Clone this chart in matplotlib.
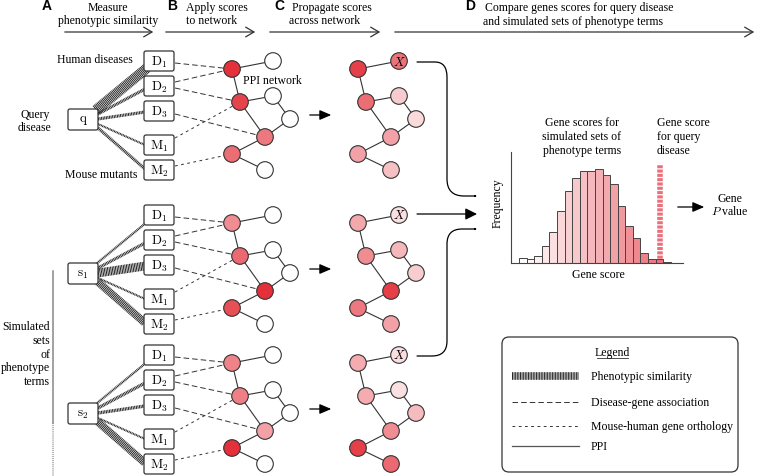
import matplotlib.pyplot as plt
import numpy as np
from matplotlib.patches import Circle, FancyBboxPatch, FancyArrowPatch
from matplotlib.path import Path
from matplotlib.colors import LinearSegmentedColormap

plt.rcParams['font.family'] = ['Liberation Serif', 'DejaVu Serif']
plt.rcParams['mathtext.fontset'] = 'cm'
plt.rcParams['lines.scale_dashes'] = False

# data
source_labels = [r'$\mathrm{q}$', r'$\mathrm{s}_1$', r'$\mathrm{s}_2$']
box_labels = [r'$\mathrm{D}_1$', r'$\mathrm{D}_2$', r'$\mathrm{D}_3$', r'$\mathrm{M}_1$', r'$\mathrm{M}_2$']
# phenotypic similarity of each source to D1, D2, D3, M1, M2
similarity = [
    [1.0, 0.30, 0.30, 0.20, 0.30],
    [0.22, 0.30, 0.85, 0.20, 0.75],
    [0.22, 0.32, 0.32, 0.20, 0.75],
]
# node scores (nodes a..h), before and after propagation
orig_scores = [
    [1.0, 0, 0.9, 0, 0, 0.65, 0.7, 0],
    [0.55, 0, 0.72, 0, 0, 1.0, 0.85, 0],
    [0.6, 0, 0.62, 0, 0, 0.45, 1.0, 0],
]
prop_scores = [
    [0.92, 0.68, 0.7, 0.25, 0.18, 0.45, 0.45, 0.3],
    [0.42, 0.15, 0.55, 0.35, 0.24, 0.93, 0.65, 0.45],
    [0.4, 0.16, 0.4, 0.15, 0.33, 0.55, 0.92, 0.72],
]
hist_freq = [5, 4, 7, 17, 31, 52, 72, 85, 92, 92, 94, 88, 79, 57, 37, 25, 10, 4, 4, 1]
query_score = 18.1
legend_items = ['Phenotypic similarity', 'Disease-gene association',
                'Mouse-human gene orthology', 'PPI']

cmap = LinearSegmentedColormap.from_list('wr', ['#ffffff', '#e3303a'])

fig = plt.figure(figsize=(7.6, 4.77), dpi=100)
ax = fig.add_axes([0, 0, 1, 1])
ax.set_xlim(0, 760)
ax.set_ylim(477, 0)
ax.axis('off')

fs = 8.5
ink = '#222222'

# header
def head_arrow(x0, x1, y=33):
    ax.annotate('', xy=(x1, y), xytext=(x0, y),
                arrowprops=dict(arrowstyle='->,head_length=0.6,head_width=0.35', color='#333', lw=0.9))

head_arrow(62, 156)
head_arrow(163, 258)
head_arrow(267, 383)
head_arrow(392, 757)
for x, t in [(47, 'A'), (172, 'B'), (279, 'C'), (470, 'D')]:
    ax.text(x, 6, t, family='Liberation Sans', weight='bold', fontsize=10, ha='center', va='center')
ax.text(108, 8, 'Measure', fontsize=fs, ha='center', va='center')
ax.text(108, 21, 'phenotypic similarity', fontsize=fs, ha='center', va='center')
ax.text(186, 8, 'Apply scores', fontsize=fs, ha='left', va='center')
ax.text(186, 21, 'to network', fontsize=fs, ha='left', va='center')
ax.text(332, 8, 'Propagate scores', fontsize=fs, ha='center', va='center')
ax.text(325, 21, 'across network', fontsize=fs, ha='center', va='center')
ax.text(579, 8, 'Compare genes scores for query disease', fontsize=fs, ha='center', va='center')
ax.text(573, 22, 'and simulated sets of phenotype terms', fontsize=fs, ha='center', va='center')

# side labels
ax.text(133, 60, 'Human diseases', fontsize=fs, ha='right', va='center')
ax.text(35, 115, 'Query', fontsize=fs, ha='center', va='center')
ax.text(35, 128, 'disease', fontsize=fs, ha='center', va='center')
ax.text(137, 175, 'Mouse mutants', fontsize=fs, ha='right', va='center')
ax.text(243, 81, 'PPI network', fontsize=fs, ha='left', va='center')
for i, t in enumerate(['Simulated', 'sets', 'of', 'phenotype', 'terms']):
    ax.text(50, 327 + 13.8 * i, t, fontsize=fs, ha='right', va='center')
ax.plot([53, 53], [272, 424], color='#888', lw=1.1)
ax.plot([53, 53], [424, 477], color='#888', lw=1.1, dashes=(0.6, 0.8))

# layout of one block
group_offsets = [0, 154, 294]
box_y = [52, 77, 102, 136, 161]
pheno_start = [(96, 111), (98, 115), (98, 120), (98, 125), (98, 129)]
pheno_end = [(147, 69), (145, 90), (145, 113), (145, 146), (145, 170)]
nodes = [(232, 70), (273, 62), (240, 103), (273, 97), (290, 120), (265, 138), (232, 155), (265, 171)]
ppi_edges = [(0, 1), (0, 2), (2, 3), (2, 5), (3, 4), (4, 5), (5, 6), (6, 7)]
assoc = [((175, 64), 0, 'd'), ((175, 83), 0, 'd'), ((175, 89), 2, 'd'),
         ((175, 115), 5, 'd'), ((175, 139), 2, 'm'), ((175, 167), 6, 'm')]
prop_dx = 126
r = 8.3

for g, oy in enumerate(group_offsets):
    # phenotypic similarity edges
    for k in range(5):
        (x0, y0), (x1, y1) = pheno_start[k], pheno_end[k]
        ax.plot([x0, x1], [y0 + oy, y1 + oy], color=ink, lw=7.5 * similarity[g][k],
                dashes=(0.7, 0.45), dash_capstyle='butt', zorder=2)
    # source box
    ax.add_patch(FancyBboxPatch((68, 110 + oy), 30, 21, boxstyle='round,pad=0,rounding_size=2',
                                fc='white', ec='#333', lw=0.9, zorder=3))
    ax.text(83, 120.5 + oy, source_labels[g], fontsize=9.5, ha='center', va='center', zorder=4)
    for k in range(5):
        ax.add_patch(FancyBboxPatch((144, box_y[k] + oy), 30, 20, boxstyle='round,pad=0,rounding_size=2',
                                    fc='white', ec='#333', lw=0.9, zorder=3))
        ax.text(159, box_y[k] + 10 + oy, box_labels[k], fontsize=9.5, ha='center', va='center', zorder=4)
    # disease-gene / orthology links
    for (x0, y0), n, kind in assoc:
        nx, ny = nodes[n]
        d = (4, 2.2) if kind == 'd' else (2, 2.5)
        ax.plot([x0, nx], [y0 + oy, ny + oy], color='#333', lw=0.7, dashes=d, zorder=1)
    # networks
    for dx, scores in [(0, orig_scores[g]), (prop_dx, prop_scores[g])]:
        for a, b in ppi_edges:
            ax.plot([nodes[a][0] + dx, nodes[b][0] + dx], [nodes[a][1] + oy, nodes[b][1] + oy],
                    color='#333', lw=0.8, zorder=1)
        for n, (x, y) in enumerate(nodes):
            ax.add_patch(Circle((x + dx, y + oy), r, fc=cmap(scores[n]), ec='#333', lw=0.8, zorder=3))
    ax.text(nodes[1][0] + prop_dx, nodes[1][1] + oy, r'$X$', fontsize=9, ha='center', va='center', zorder=4)
    ax.annotate('', xy=(334, 116 + oy), xytext=(307, 116 + oy),
                arrowprops=dict(arrowstyle='-|>,head_length=0.7,head_width=0.3', color='black', lw=0.9))

# connectors to the histogram
arrow_kw = dict(arrowstyle='-|>,head_length=0.7,head_width=0.35', color='black', lw=0.9,
                shrinkA=0, shrinkB=0)
p_top = Path([(417, 63), (435, 63), (447, 63), (447, 78), (447, 180), (447, 197), (464, 197), (477, 197)],
             [Path.MOVETO, Path.LINETO, Path.CURVE3, Path.CURVE3, Path.LINETO, Path.CURVE3, Path.CURVE3, Path.LINETO])
p_bot = Path([(417, 357), (432, 357), (447, 357), (447, 342), (447, 245), (447, 230), (462, 230), (477, 230)],
             [Path.MOVETO, Path.LINETO, Path.CURVE3, Path.CURVE3, Path.LINETO, Path.CURVE3, Path.CURVE3, Path.LINETO])
ax.add_patch(FancyArrowPatch(path=p_top, **arrow_kw))
ax.add_patch(FancyArrowPatch(path=p_bot, **arrow_kw))
ax.annotate('', xy=(477, 215), xytext=(417, 215), arrowprops=arrow_kw)

# histogram
ax.text(582, 123, 'Gene scores for', fontsize=fs, ha='center', va='center')
ax.text(582, 137, 'simulated sets of', fontsize=fs, ha='center', va='center')
ax.text(582, 151, 'phenotype terms', fontsize=fs, ha='center', va='center')
ax.text(657, 123, 'Gene score', fontsize=fs, ha='left', va='center')
ax.text(657, 137, 'for query', fontsize=fs, ha='left', va='center')
ax.text(657, 151, 'disease', fontsize=fs, ha='left', va='center')
ax.text(498, 203, 'Frequency', fontsize=fs, ha='center', va='center', rotation=90)
ax.text(598, 275, 'Gene score', fontsize=fs, ha='center', va='center')

hx = fig.add_axes([511 / 760, (477 - 264) / 477, 172 / 760, 111 / 477])
hx.patch.set_alpha(0)
bins = np.arange(len(hist_freq))
hx.bar(bins, hist_freq, width=1.0, color=cmap(np.linspace(0, 0.72, len(hist_freq))),
       edgecolor='#444', lw=0.7)
hx.plot([query_score, query_score], [0, 99], color='#ec6f7b', lw=4.0, dashes=(2.2, 0.9),
        dash_capstyle='butt')
hx.set_xlim(-1.55, 21.1)
hx.set_ylim(0, 111)
hx.set_xticks([])
hx.set_yticks([])
for s in ['top', 'right']:
    hx.spines[s].set_visible(False)
for s in ['left', 'bottom']:
    hx.spines[s].set_color('#444')
    hx.spines[s].set_linewidth(0.8)

ax.annotate('', xy=(707, 208), xytext=(675, 208),
            arrowprops=dict(arrowstyle='-|>,head_length=0.7,head_width=0.3', color='black', lw=0.9))
ax.text(730, 199, 'Gene', fontsize=fs, ha='center', va='center')
ax.text(730, 212, r'$\it{P}$ value', fontsize=fs, ha='center', va='center')

# legend
ax.add_patch(FancyBboxPatch((502, 338), 236, 135, boxstyle='round,pad=0,rounding_size=7',
                            fc='white', ec='#333', lw=0.9))
ax.text(612, 353, 'Legend', fontsize=fs, ha='center', va='center')
ax.plot([597, 628], [359, 359], color='#333', lw=0.6)
ly = [377, 403, 427, 447]
ax.plot([512, 579], [ly[0], ly[0]], color=ink, lw=5.5, dashes=(0.7, 0.45), dash_capstyle='butt')
ax.plot([512, 579], [ly[1], ly[1]], color='#333', lw=0.7, dashes=(4, 2.2))
ax.plot([512, 579], [ly[2], ly[2]], color='#333', lw=0.7, dashes=(2, 2.5))
ax.plot([512, 579], [ly[3], ly[3]], color='#555', lw=0.9)
for y, t in zip(ly, legend_items):
    ax.text(591, y, t, fontsize=fs, ha='left', va='center')

fig.savefig('out.png', dpi=100)
